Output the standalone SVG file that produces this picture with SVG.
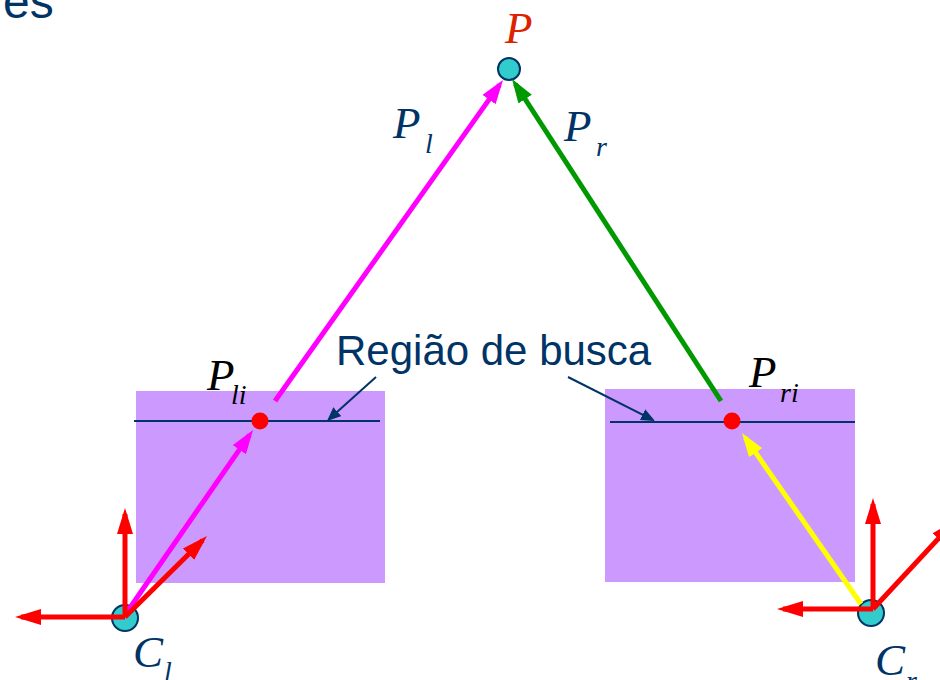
<svg xmlns="http://www.w3.org/2000/svg" width="940" height="680" viewBox="0 0 940 680">
<style>
.lbl{font-family:"Liberation Serif","Times New Roman",serif;font-style:italic}
.navy{fill:#003366}
.img{fill:#cc99ff}
.scan{stroke:#003366;stroke-width:2}
.cam{fill:#33cccc;stroke:#003366;stroke-width:2}
.dot{fill:#ff0000}
.ax{stroke:#ff0000;stroke-width:5;fill:none}
</style>
<defs>
<marker id="hm" markerUnits="userSpaceOnUse" markerWidth="24" markerHeight="16" viewBox="0 0 24 16" refX="18" refY="8" orient="auto"><path d="M0,0 L24,8 L0,16 z" fill="#ff00ff"/></marker>
<marker id="hg" markerUnits="userSpaceOnUse" markerWidth="24" markerHeight="16" viewBox="0 0 24 16" refX="18" refY="8" orient="auto"><path d="M0,0 L24,8 L0,16 z" fill="#009900"/></marker>
<marker id="hy" markerUnits="userSpaceOnUse" markerWidth="24" markerHeight="16" viewBox="0 0 24 16" refX="18" refY="8" orient="auto"><path d="M0,0 L24,8 L0,16 z" fill="#ffff00"/></marker>
<marker id="hr" markerUnits="userSpaceOnUse" markerWidth="26" markerHeight="16" viewBox="0 0 26 16" refX="20" refY="8" orient="auto"><path d="M0,0 L26,8 L0,16 z" fill="#ff0000"/></marker>
<marker id="hn" markerUnits="userSpaceOnUse" markerWidth="14" markerHeight="12" viewBox="0 0 14 12" refX="11" refY="6" orient="auto"><path d="M0,0 L14,6 L0,12 z" fill="#003366"/></marker>
</defs>
<rect width="940" height="680" fill="#ffffff"/>
<text x="3" y="18" font-family="Liberation Sans, Arial, sans-serif" font-size="48" class="navy">es</text>

<g id="image-left">
<rect class="img" x="136" y="391" width="249" height="192"/>
<line class="scan" x1="134" y1="421" x2="380" y2="421"/>
</g>
<g id="image-right">
<rect class="img" x="605" y="389" width="250" height="193"/>
<line class="scan" x1="610" y1="422" x2="855" y2="422"/>
</g>

<g id="search-label">
<text x="336" y="365" font-family="Liberation Sans, Arial, sans-serif" font-size="42" class="navy">Região de busca</text>
</g>

<g id="node-P">
<circle class="cam" cx="509" cy="69" r="11"/>
<text class="lbl" x="505" y="43" font-size="45" fill="#dd2200">P</text>
</g>
<g id="node-Cl">
<circle class="cam" cx="125" cy="618" r="13"/>
<text class="lbl navy" x="133" y="667" font-size="45">C</text>
<text class="lbl navy" x="164" y="681" font-size="28">l</text>
</g>
<g id="node-Cr">
<circle class="cam" cx="871" cy="613" r="13"/>
<text class="lbl navy" x="875" y="675" font-size="45">C</text>
<text class="lbl navy" x="906" y="690" font-size="28">r</text>
</g>

<g id="connectors">
<line x1="275" y1="401" x2="499.5" y2="84.9" stroke="#ff00ff" stroke-width="5" marker-end="url(#hm)"/>
<line x1="127" y1="612" x2="249.6" y2="434.9" stroke="#ff00ff" stroke-width="5" marker-end="url(#hm)"/>
<line x1="721" y1="401" x2="515.3" y2="84" stroke="#009900" stroke-width="5" marker-end="url(#hg)"/>
<line x1="861" y1="604" x2="745.4" y2="437.9" stroke="#ffff00" stroke-width="5" marker-end="url(#hy)"/>
<line x1="376" y1="377" x2="329.2" y2="419" stroke="#003366" stroke-width="2" marker-end="url(#hn)"/>
<line x1="568" y1="377" x2="652.3" y2="419.6" stroke="#003366" stroke-width="2" marker-end="url(#hn)"/>
</g>

<g id="axes-left">
<line class="ax" x1="125" y1="617" x2="125" y2="514" marker-end="url(#hr)"/>
<line class="ax" x1="125" y1="617" x2="21" y2="617" marker-end="url(#hr)"/>
<line class="ax" x1="125" y1="617" x2="202.7" y2="540.2" marker-end="url(#hr)"/>
</g>
<g id="axes-right">
<line class="ax" x1="873" y1="609" x2="873" y2="504" marker-end="url(#hr)"/>
<line class="ax" x1="873" y1="609" x2="783" y2="609" marker-end="url(#hr)"/>
<line class="ax" x1="873" y1="609" x2="952" y2="524" marker-end="url(#hr)"/>
</g>

<g id="node-Pli">
<circle class="dot" cx="260" cy="421" r="8.5"/>
<text class="lbl" x="207" y="390" font-size="45" fill="#000">P</text>
<text class="lbl" x="231" y="404" font-size="28" fill="#000">li</text>
</g>
<g id="node-Pri">
<circle class="dot" cx="732" cy="421" r="8.5"/>
<text class="lbl" x="749" y="387" font-size="45" fill="#000">P</text>
<text class="lbl" x="780" y="402" font-size="28" fill="#000">ri</text>
</g>

<g id="label-Pl">
<text class="lbl navy" x="393" y="138" font-size="45">P</text>
<text class="lbl navy" x="425" y="153" font-size="28">l</text>
</g>
<g id="label-Pr">
<text class="lbl navy" x="564" y="141" font-size="45">P</text>
<text class="lbl navy" x="596" y="156" font-size="28">r</text>
</g>
</svg>
